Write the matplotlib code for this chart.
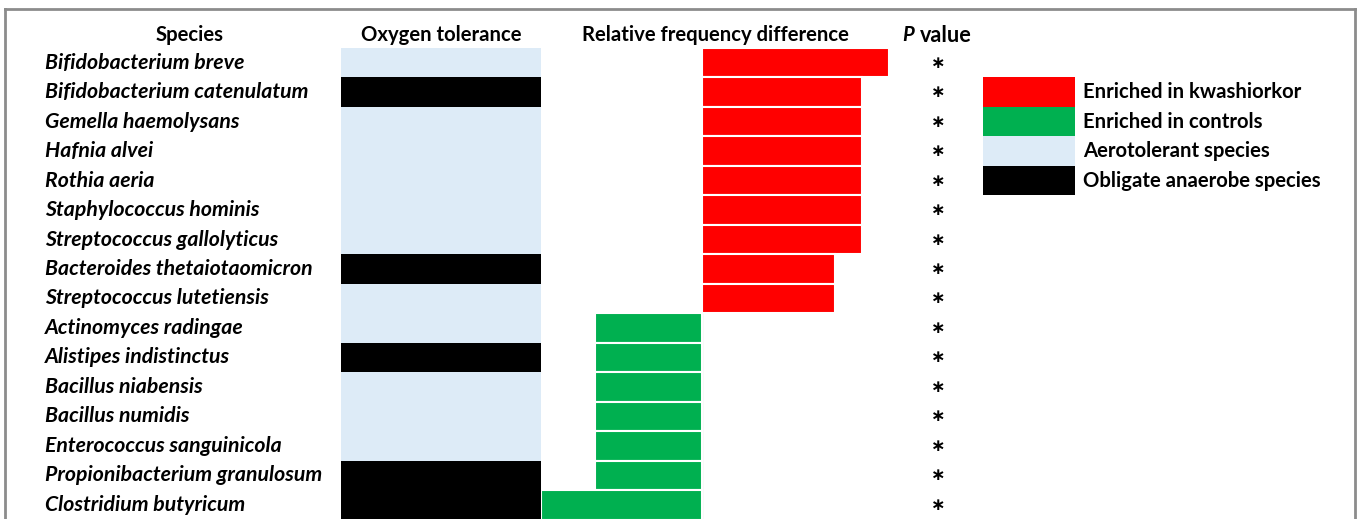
import matplotlib.pyplot as plt
import matplotlib.transforms as mtransforms
from matplotlib.lines import Line2D

SPECIES = [
    "Bifidobacterium breve",
    "Bifidobacterium catenulatum",
    "Gemella haemolysans",
    "Hafnia alvei",
    "Rothia aeria",
    "Staphylococcus hominis",
    "Streptococcus gallolyticus",
    "Bacteroides thetaiotaomicron",
    "Streptococcus lutetiensis",
    "Actinomyces radingae",
    "Alistipes indistinctus",
    "Bacillus niabensis",
    "Bacillus numidis",
    "Enterococcus sanguinicola",
    "Propionibacterium granulosum",
    "Clostridium butyricum",
]
# 1 = obligate anaerobe, 0 = aerotolerant
ANAEROBE = [0, 1, 0, 0, 0, 0, 0, 1, 0, 0, 1, 0, 0, 0, 1, 1]
FREQ_DIFF = [7, 6, 6, 6, 6, 6, 6, 5, 5, -4, -4, -4, -4, -4, -4, -6]
P_MARK = [r"$\boldsymbol{\ast}$"] * 16

LEGEND_LABELS = [
    "Enriched in kwashiorkor",
    "Enriched in controls",
    "Aerotolerant species",
    "Obligate anaerobe species",
]

RED = "#FF0000"
GREEN = "#00B050"
LIGHT_BLUE = "#DDEBF7"
BLACK = "#000000"
LEGEND_COLORS = [RED, GREEN, LIGHT_BLUE, BLACK]

FONT = "Lato"
FS = 14.6
FS_SPECIES = 15.3

W, H = 1357, 519


def px_axes(fig, x0, x1, y0, y1):
    # axes from pixel box (y measured from top)
    return fig.add_axes([x0 / W, 1 - y1 / H, (x1 - x0) / W, (y1 - y0) / H])


def main() -> None:
    plt.rcParams["mathtext.fontset"] = "dejavusans"
    fig = plt.figure(figsize=(W / 100, H / 100), dpi=100)
    rows = list(range(len(SPECIES)))
    top, bottom = 48, 48 + 16 * 29.47
    ylim = (len(SPECIES) - 0.5, -0.5)

    # oxygen tolerance column
    ax_oxy = px_axes(fig, 341, 541, top, bottom)
    oxy_colors = [BLACK if a else LIGHT_BLUE for a in ANAEROBE]
    ax_oxy.barh(rows, [1] * len(rows), height=1.0, color=oxy_colors, linewidth=0)
    ax_oxy.set_xlim(0, 1)
    ax_oxy.set_ylim(*ylim)
    ax_oxy.axis("off")

    # relative frequency difference
    ax = px_axes(fig, 541, 889, top, bottom)
    bar_colors = [RED if v > 0 else GREEN for v in FREQ_DIFF]
    ax.barh(rows, FREQ_DIFF, height=1.0, color=bar_colors, edgecolor="white", linewidth=1.5)
    ax.set_xlim(-6, 7)
    ax.set_ylim(*ylim)
    ax.axis("off")
    ax.axvline(0, color="#A0A0A0", linewidth=0.8, zorder=0)

    # text columns: x in figure fraction, y in rows
    tr = mtransforms.blended_transform_factory(fig.transFigure, ax.transData)
    for i, name in enumerate(SPECIES):
        fig.text(45 / W, i, name, transform=tr, ha="left", va="center",
                 fontsize=FS_SPECIES, fontweight="bold", style="italic", family=FONT)
    for i, mark in enumerate(P_MARK):
        fig.text(937 / W, i, mark, transform=tr, ha="center", va="center",
                 fontsize=12.5)

    # headers
    hy = 1 - 35 / H
    hdr = dict(fontsize=FS, fontweight="bold", family=FONT, va="center", ha="center")
    fig.text(190 / W, hy, "Species", **hdr)
    fig.text(441 / W, hy, "Oxygen tolerance", **hdr)
    fig.text(715 / W, hy, "Relative frequency difference", **hdr)
    fig.text(908 / W, hy, "P", fontsize=FS, fontweight="bold", style="italic",
             family=FONT, va="center", ha="center")
    fig.text(920 / W, hy, "value", fontsize=FS + 1, fontweight="bold",
             family=FONT, va="center", ha="left")

    # legend as colour blocks aligned with rows 1-4
    ax_leg = px_axes(fig, 983, 1075, top, bottom)
    leg_rows = [1, 2, 3, 4]
    ax_leg.barh(leg_rows, [1] * 4, height=1.0, color=LEGEND_COLORS, linewidth=0)
    ax_leg.set_xlim(0, 1)
    ax_leg.set_ylim(*ylim)
    ax_leg.axis("off")
    for r, lab in zip(leg_rows, LEGEND_LABELS):
        ax_leg.text(1.09, r, lab, ha="left", va="center", fontsize=FS,
                    fontweight="bold", family=FONT)

    # grey frame (bottom is cropped in the original)
    frame = dict(color="#8C8C8C", linewidth=2, transform=fig.transFigure)
    yt = 1 - 9 / H
    fig.add_artist(Line2D([5 / W, 5 / W], [0, yt], **frame))
    fig.add_artist(Line2D([5 / W, 1355 / W], [yt, yt], **frame))
    fig.add_artist(Line2D([1355 / W, 1355 / W], [0, yt], **frame))

    fig.savefig("out.png", dpi=100)


if __name__ == "__main__":
    main()
